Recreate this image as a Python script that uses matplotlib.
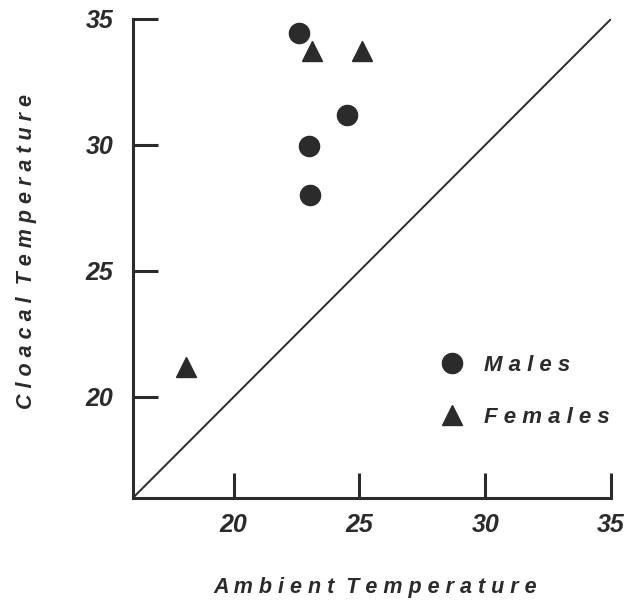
import numpy as np
import matplotlib.pyplot as plt

# data
males_ambient = [22.6, 24.5, 23.0, 23.05]
males_cloacal = [34.45, 31.2, 29.95, 28.0]
females_ambient = [23.1, 25.1, 18.1]
females_cloacal = [33.75, 33.75, 21.2]
ticks = [20, 25, 30, 35]
lims = [16, 35]

ink = '#2b2b2b'
plt.rcParams['font.family'] = ['Liberation Sans', 'DejaVu Sans']


def spaced(s):
    # letter-spaced look of the original typesetting
    return '  '.join(' '.join(w) for w in s.split(' '))


fig = plt.figure(figsize=(6.3, 6.06), dpi=100)
ax = fig.add_axes([133 / 630, 1 - 497.8 / 606, 478 / 630, 478.8 / 606])

# line of equality
ax.plot(lims, lims, color=ink, lw=1.4, zorder=1)

ax.plot(males_ambient, males_cloacal, 'o', ms=14.5, color=ink, mec=ink,
        label=spaced('Males'), zorder=3)
ax.plot(females_ambient, females_cloacal, '^', ms=15, color=ink, mec=ink,
        label=spaced('Females'), zorder=3)

ax.set_xlim(lims)
ax.set_ylim(lims)
ax.set_xticks(ticks)
ax.set_yticks(ticks)
ax.tick_params(direction='in', length=18, width=2.2, color=ink,
               labelsize=18, labelcolor=ink)
ax.tick_params(axis='x', pad=11)
ax.tick_params(axis='y', pad=14)
for lab in ax.get_xticklabels() + ax.get_yticklabels():
    lab.set_fontweight('bold')
    lab.set_fontstyle('italic')

for s in ['top', 'right']:
    ax.spines[s].set_visible(False)
for s in ['left', 'bottom']:
    ax.spines[s].set_linewidth(2.2)
    ax.spines[s].set_color(ink)

fig.text(375 / 630, 1 - 587 / 606, spaced('Ambient Temperature'),
         ha='center', va='center', fontsize=15.5, fontweight='bold',
         fontstyle='italic', color=ink)
fig.text(27 / 630, 1 - 252 / 606, spaced('Cloacal Temperature'),
         ha='center', va='center', rotation=90, fontsize=15.5,
         fontweight='bold', fontstyle='italic', color=ink)

leg = ax.legend(loc='upper left', bbox_to_anchor=(0.603, 0.34), frameon=False,
                handletextpad=0.93, labelspacing=1.4, handlelength=1.0,
                prop={'size': 16, 'weight': 'bold', 'style': 'italic'})
for t in leg.get_texts():
    t.set_color(ink)

fig.savefig('out.png', dpi=100, facecolor='white')
